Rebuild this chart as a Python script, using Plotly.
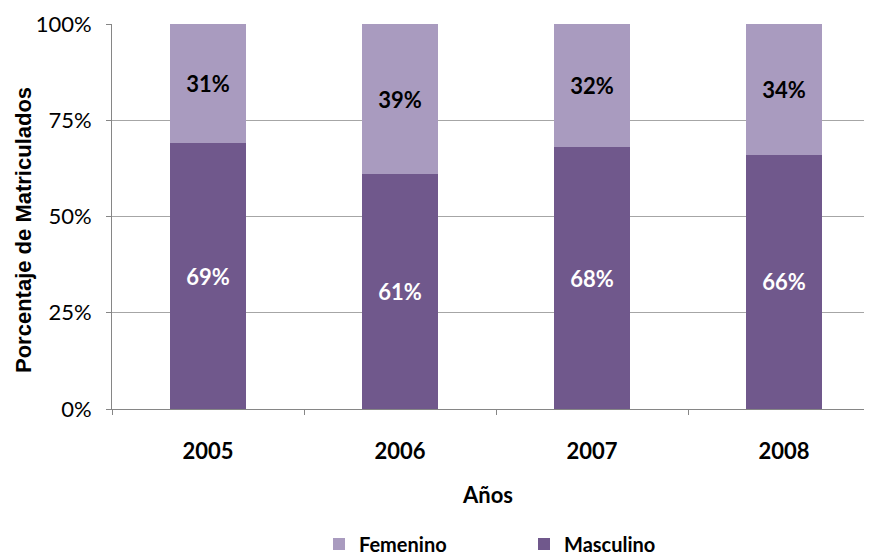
import plotly.graph_objects as go

years = ["2005", "2006", "2007", "2008"]
masculino = [69, 61, 68, 66]
femenino = [31, 39, 32, 34]
y_ticks = [0, 25, 50, 75, 100]
y_tick_labels = ["0%", "25%", "50%", "75%", "100%"]

dark = "#70588c"
light = "#a99bbf"
calibri = "Lato, 'Open Sans', sans-serif"

# The page body adds an 8px margin, so the figure is 8px smaller on each axis
W, H = 864, 547
L, T = 104, 16
BOTTOM = 401  # y of the x axis in figure pixels
PW = W - L
PH = BOTTOM - T

fig = go.Figure()
fig.add_trace(go.Bar(
    x=years, y=masculino, name="Masculino", marker_color=dark,
    marker_line_width=0,
    text=[f"{v}%" for v in masculino], textposition="inside",
    insidetextanchor="middle", textangle=0,
    textfont=dict(family=calibri, size=22, color="white", weight="bold"),
    hoverinfo="skip",
))
fig.add_trace(go.Bar(
    x=years, y=femenino, name="Femenino", marker_color=light,
    marker_line_width=0,
    text=[f"{v}%" for v in femenino], textposition="inside",
    insidetextanchor="middle", textangle=0,
    textfont=dict(family=calibri, size=22, color="black", weight="bold"),
    hoverinfo="skip",
))

fig.update_layout(
    width=W, height=H,
    margin=dict(l=L, r=0, t=T, b=H - BOTTOM),
    barmode="stack", bargap=0.6,
    plot_bgcolor="white", paper_bgcolor="white",
    showlegend=True,
    legend=dict(orientation="h", x=(311 - L) / PW, xanchor="left",
                yref="container", y=1 - 536 / H, yanchor="middle",
                traceorder="reversed",
                font=dict(family=calibri, size=20, color="black", weight="bold"),
                itemwidth=30, entrywidth=160, bgcolor="rgba(0,0,0,0)"),
    font=dict(family=calibri, color="black"),
    annotations=[
        dict(text="Porcentaje de Matriculados", xref="paper", yref="paper",
             x=(16 - L) / PW, y=(BOTTOM - 222) / PH, textangle=-90, showarrow=False,
             xanchor="center", yanchor="middle",
             font=dict(family="'Liberation Sans', Arial, sans-serif", size=22,
                       color="black", weight="bold")),
        dict(text="Años", xref="paper", yref="paper", x=(479 - L) / PW,
             y=-(486 - BOTTOM) / PH,
             showarrow=False, xanchor="center", yanchor="middle",
             font=dict(family=calibri, size=22, color="black", weight="bold")),
    ],
)
fig.update_xaxes(
    type="category", range=[-0.5, 3.5 - 8 / 192], automargin=False,
    showline=True, linecolor="#868686", linewidth=1,
    ticks="outside", tickson="boundaries", ticklen=5, tickcolor="#868686",
    ticklabelstandoff=23,
    tickfont=dict(family=calibri, size=22, color="black", weight="bold"),
    showgrid=False,
)
fig.update_yaxes(
    range=[0, 100], tickvals=y_ticks, ticktext=y_tick_labels, automargin=False,
    showline=True, linecolor="#868686", linewidth=1,
    ticks="outside", ticklen=5, tickcolor="#868686",
    ticklabelstandoff=10,
    showgrid=True, gridcolor="#a6a6a6", gridwidth=1,
    tickfont=dict(family=calibri, size=22, color="black"),
    zeroline=False,
)

fig.write_html("out.html")
